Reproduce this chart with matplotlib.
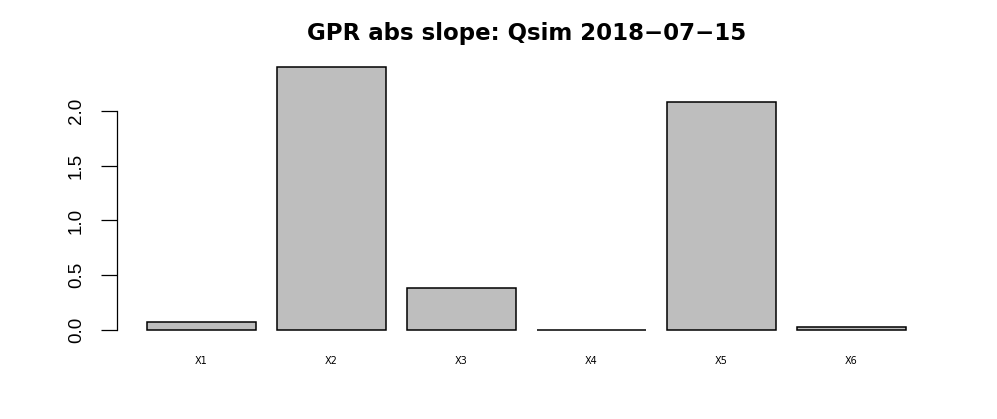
import matplotlib
matplotlib.use("Agg")
import matplotlib.pyplot as plt
import numpy as np

plt.rcParams["font.family"] = ["Liberation Sans", "DejaVu Sans"]

labels = ["X1", "X2", "X3", "X4", "X5", "X6"]
slopes = [0.074, 2.40, 0.385, 0.004, 2.085, 0.023]
title = "GPR abs slope: Qsim 2018\u221207\u221215"

# R barplot layout: width 1, space 0.2
x = 0.7 + 1.2*np.arange(len(slopes))

fig = plt.figure(figsize=(9.97, 4.19), dpi=100)
ax = fig.add_axes([117/997, (419-340.5)/419, (936-117)/997, (340.5-56.7)/419])

ax.bar(x, slopes, width=1.0, color="#BEBEBE", edgecolor="black", linewidth=1.1)

xmin, xmax = 0.2, x[-1] + 0.5
ax.set_xlim(xmin - 0.04*(xmax - xmin), xmax + 0.04*(xmax - xmin))
ymax = max(slopes)
ax.set_ylim(-0.04*ymax, 1.04*ymax)

for s in ["top", "right", "bottom"]:
    ax.spines[s].set_visible(False)
ax.spines["left"].set_bounds(0, 2)
ax.spines["left"].set_linewidth(0.9)

ax.set_yticks([0, 0.5, 1.0, 1.5, 2.0])
ax.set_yticklabels(["0.0", "0.5", "1.0", "1.5", "2.0"], rotation=90, va="center")
ax.tick_params(axis="y", length=11.5, width=0.9, pad=11.5, labelsize=13.5)

ax.set_xticks(x)
ax.set_xticklabels(labels, family="DejaVu Sans")
ax.tick_params(axis="x", length=0, pad=11, labelsize=7)

ax.set_title(title, fontsize=16.5, fontweight="bold", family="DejaVu Sans", pad=12)

fig.savefig("out.png", dpi=100)
